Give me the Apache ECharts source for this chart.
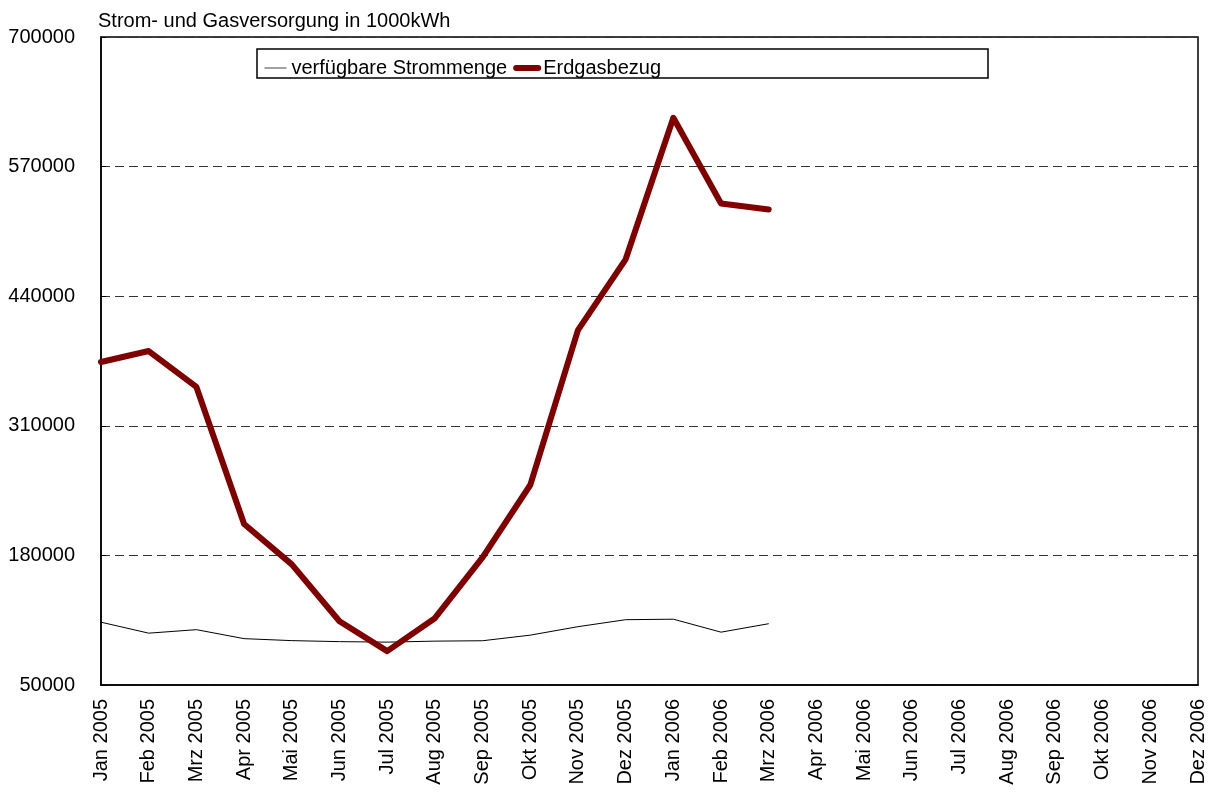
<!DOCTYPE html>
<html>
<head>
<meta charset="utf-8">
<script src="https://cdn.jsdelivr.net/npm/echarts@6/dist/echarts.min.js"></script>
<style>
html,body{margin:0;padding:0;background:#fff;}
#chart{width:1217px;height:792px;}
</style>
</head>
<body>
<div id="chart"></div>
<script>
const months = ['Jan 2005','Feb 2005','Mrz 2005','Apr 2005','Mai 2005','Jun 2005','Jul 2005','Aug 2005','Sep 2005','Okt 2005','Nov 2005','Dez 2005',
  'Jan 2006','Feb 2006','Mrz 2006','Apr 2006','Mai 2006','Jun 2006','Jul 2006','Aug 2006','Sep 2006','Okt 2006','Nov 2006','Dez 2006'];
const strommenge = [113000,102000,105500,96500,94500,93500,93000,94000,94400,100000,108500,115500,116000,103000,111500];
const erdgasbezug = [374000,385000,349000,211500,171000,114000,84000,117000,178000,250600,406000,477000,619000,533000,527000];
const yMin = 50000, yMax = 700000, yStep = 130000;
const titleText = 'Strom- und Gasversorgung in 1000kWh';

const shift = v => v - yMin;
const chart = echarts.init(document.getElementById('chart'));
const font = 'Liberation Sans, Arial, sans-serif';
chart.setOption({
  animation: false,
  backgroundColor: '#fff',
  textStyle: {fontFamily: font},
  title: {text: titleText, left: 93, top: 6, textStyle: {fontSize: 20, fontWeight: 'normal', color: '#000', fontFamily: font}},
  graphic: [{type: 'rect', shape: {x: 257, y: 49, width: 731, height: 29}, style: {fill: 'none', stroke: '#000', lineWidth: 1.5}, z: 10}],
  legend: {
    left: 259, top: 53, itemWidth: 22, itemHeight: 14, itemGap: 6,
    itemStyle: {opacity: 0},
    textStyle: {fontSize: 20, color: '#000', fontFamily: font},
    data: [
      {name: 'verfügbare Strommenge', lineStyle: {width: 1, color: '#444'}},
      {name: 'Erdgasbezug', lineStyle: {width: 6, color: '#800000', cap: 'round'}}
    ]
  },
  grid: {left: 101, right: 19, top: 37, bottom: 107, show: true, borderColor: '#000', borderWidth: 1.5},
  xAxis: {
    type: 'category', data: months, boundaryGap: false,
    axisLine: {lineStyle: {color: '#000', width: 1.5}},
    axisTick: {show: false},
    axisLabel: {rotate: 90, fontSize: 20, color: '#000', margin: 14, interval: 0, fontFamily: font},
    splitLine: {show: false}
  },
  yAxis: {
    type: 'value', min: 0, max: yMax - yMin, interval: yStep,
    axisLine: {show: true, lineStyle: {color: '#000', width: 1.5}},
    axisTick: {show: true, inside: true, length: 5, lineStyle: {color: '#000'}},
    axisLabel: {fontSize: 20, color: '#000', margin: 26, formatter: v => String(v + yMin), fontFamily: font},
    splitLine: {show: true, lineStyle: {color: '#333', type: [9, 5], width: 1}}
  },
  series: [
    {name: 'verfügbare Strommenge', type: 'line', data: strommenge.map(shift), symbol: 'none',
      lineStyle: {color: '#000', width: 1}, itemStyle: {color: '#000'}},
    {name: 'Erdgasbezug', type: 'line', data: erdgasbezug.map(shift), symbol: 'none',
      lineStyle: {color: '#800000', width: 6, cap: 'round', join: 'round'}, itemStyle: {color: '#800000'}}
  ]
});
</script>
</body>
</html>
